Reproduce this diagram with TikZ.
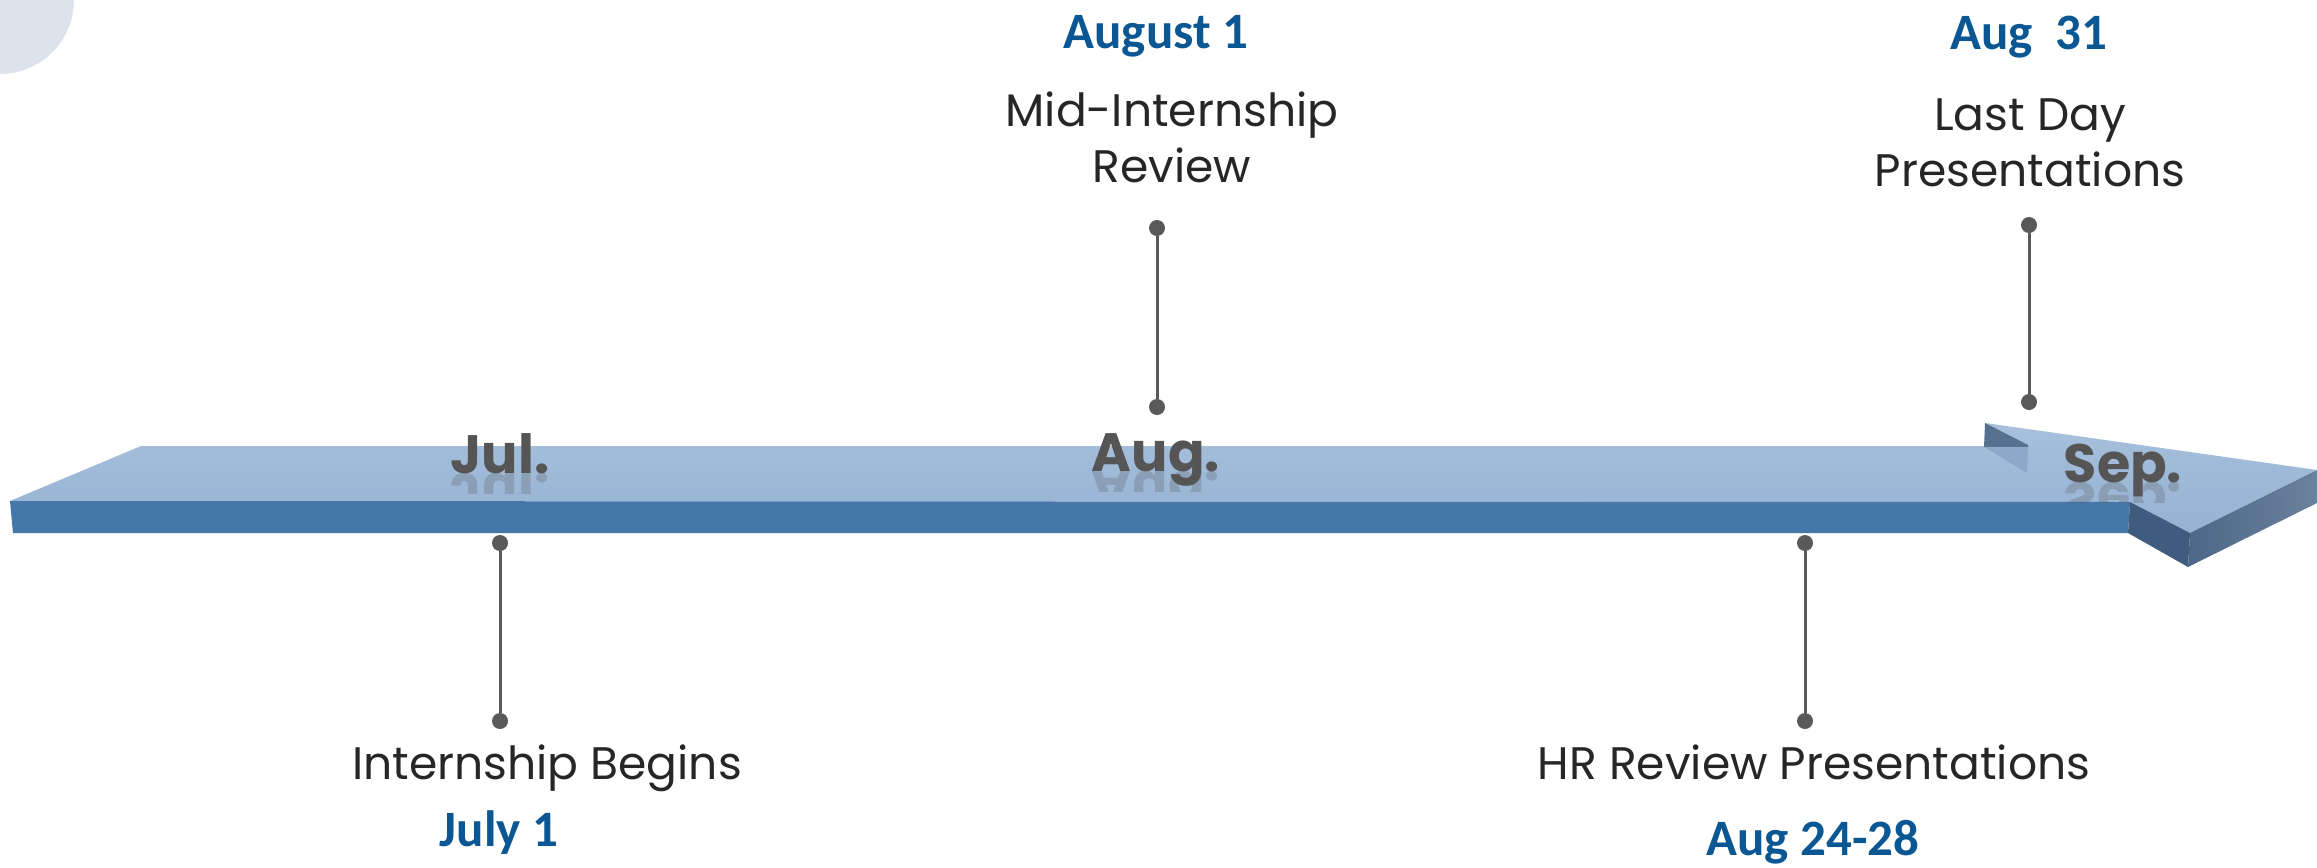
\documentclass[tikz,border=0pt]{standalone}
\usepackage{fontspec}
\setmainfont{Poppins}
\newfontfamily\datefont{Carlito}
\usetikzlibrary{positioning}

\definecolor{circlebg}{HTML}{DCE3ED}
\definecolor{facetop}{HTML}{A6C0DC}
\definecolor{facebot}{HTML}{96B2D3}
\definecolor{facefront}{HTML}{4577A8}
\definecolor{headleft}{HTML}{3F5B7D}
\definecolor{headrightA}{HTML}{4C6788}
\definecolor{headrightB}{HTML}{6B829D}
\definecolor{notchdark}{HTML}{56718F}
\definecolor{notchlight}{HTML}{8DA9CA}
\definecolor{pingray}{HTML}{595959}
\definecolor{eventgray}{HTML}{262626}
\definecolor{monthgray}{HTML}{555555}
\definecolor{dateblue}{HTML}{0B5793}

\begin{document}
\begin{tikzpicture}[x=0.5pt,y=-0.5pt,
      pindot/.style={
         circle,
         fill=pingray,
         inner sep=0pt,
         minimum size=8pt},
      pinline/.style={draw=pingray, line width=1.5pt},
      eventtext/.style={
         font=\fontsize{22.8}{28}\selectfont,
         text=eventgray,
         align=center,
         anchor=base,
         inner sep=0pt},
      datetext/.style={
         font=\datefont\bfseries\fontsize{25.5}{30}\selectfont,
         text=dateblue,
         anchor=base,
         inner sep=0pt},
      monthtext/.style={
         font=\bfseries\fontsize{27}{32}\selectfont,
         text=monthgray,
         anchor=base,
         inner sep=0pt}
      ]
      \useasboundingbox (0,0) rectangle (2317,867);
      % background disc in the corner
      \fill[circlebg] (0,0) circle[radius=74];
      % the arrow
      \shade[top color=facetop, bottom color=facebot]
         (141,446) -- (1985,446) -- (1985,423) -- (2317,470) -- (2190,533)
         -- (2130,502) -- (10,501) -- cycle;
      \fill[facefront] (10,501) -- (2130,502) -- (2128,533) -- (13,533) -- cycle;
      \fill[headleft] (2130,502) -- (2190,533) -- (2188,567) -- (2128,533) -- cycle;
      \shade[left color=headrightA, right color=headrightB]
         (2190,533) -- (2317,470) -- (2317,503) -- (2188,567) -- cycle;
      \fill[notchdark] (1985,423) -- (2028,445) -- (2028,447) -- (1984,447) -- cycle;
      \fill[notchlight] (1984,447) -- (2028,447) -- (2027,473) -- cycle;
      % month names with reflection
      \foreach \n/\x/\y/\txt in {jul/500/473/Jul., aug/1156/471/Aug., sep/2123/482/Sep.}{
         \begin{scope}
            \clip (\x-80,\y) rectangle (\x+80,\y+20);
            \node[monthtext, opacity=0.25, yscale=-1, transform shape] at (\x,\y) {\txt};
         \end{scope}
         \node[monthtext] (\n) at (\x,\y) {\txt};
      }
      % pins
      \foreach \n/\x/\ya/\yb in {jul/500/543/721, aug/1157/228/407, hr/1805/543/721, last/2029/225/402}{
         \node[pindot] (\n-a) at (\x,\ya) {};
         \node[pindot] (\n-b) at (\x,\yb) {};
         \draw[pinline] (\n-a) -- (\n-b);
      }
      % events
      \node[eventtext] (begins) at (547,779) {Internship Begins};
      \node[datetext] (jul1) at (499,846) {July 1};
      \node[eventtext] (hrreview) at (1814,779) {HR Review Presentations};
      \node[datetext] (aug2428) at (1813,855) {Aug 24-28};
      \node[datetext] (aug1) at (1156,48) {August 1};
      \node[eventtext] (midreview) at (1172,182) {Mid-Internship\\Review};
      \node[datetext] (aug31) at (2029,49) {Aug\ \ 31};
      \node[eventtext] (lastday) at (2030,186) {Last Day\\Presentations};
\end{tikzpicture}
\end{document}
